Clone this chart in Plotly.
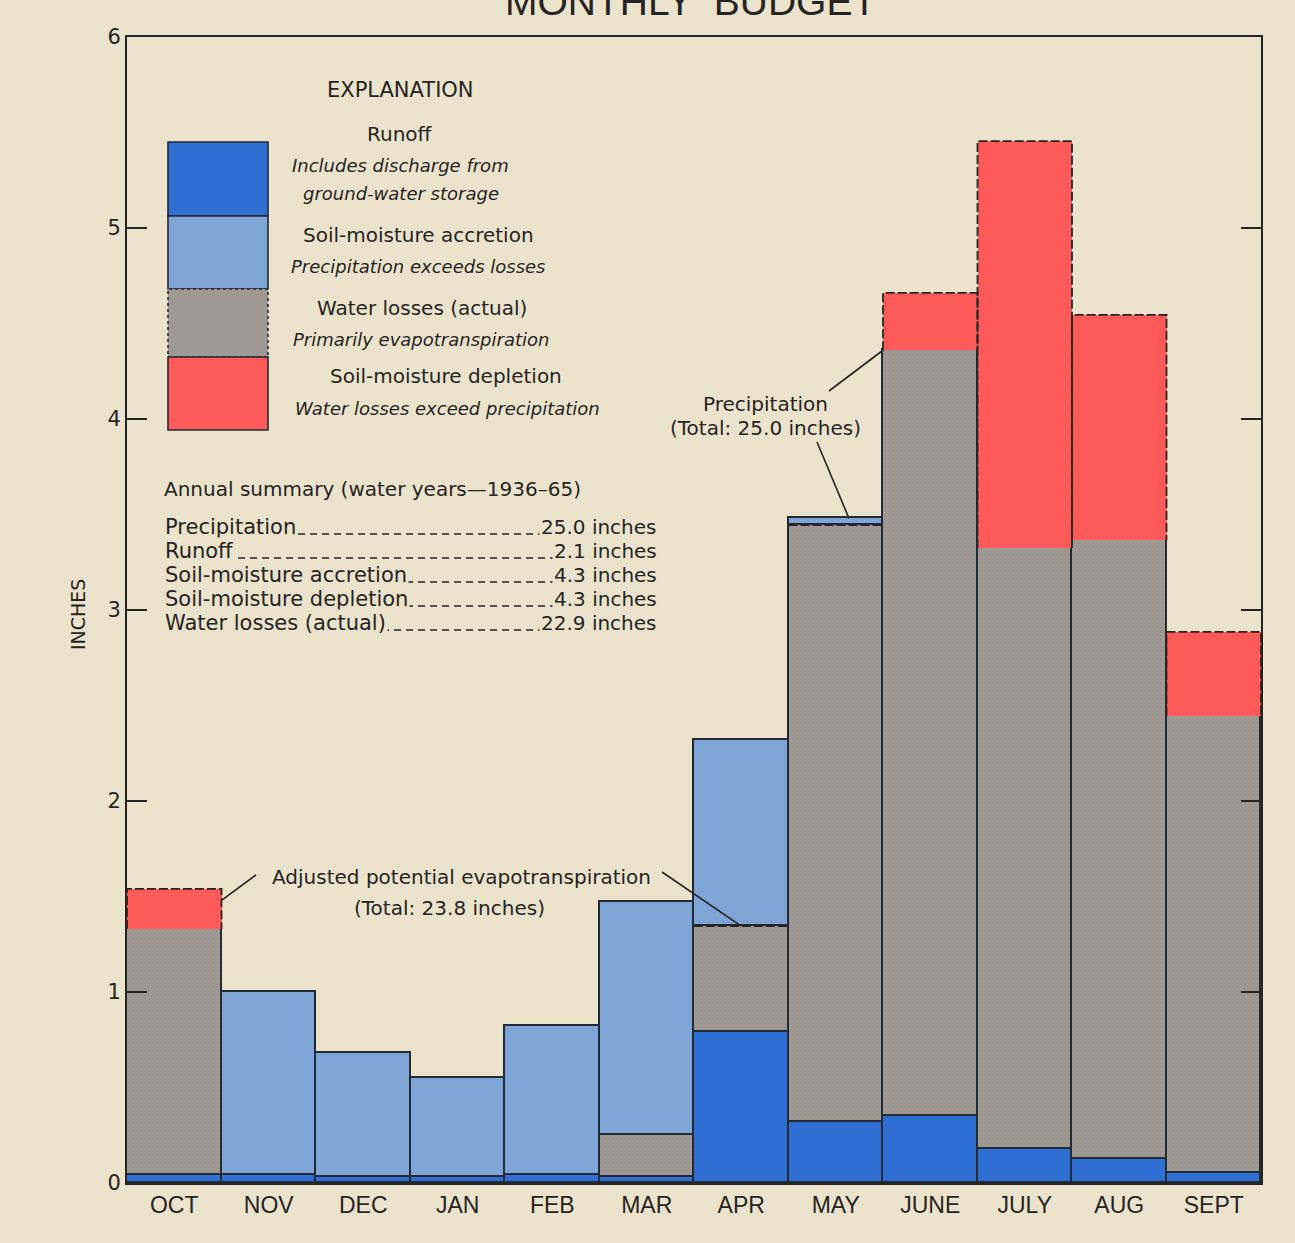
import plotly.graph_objects as go

# Monthly water budget, water years 1936-65 (inches)
months = ["OCT", "NOV", "DEC", "JAN", "FEB", "MAR", "APR", "MAY", "JUNE", "JULY", "AUG", "SEPT"]
runoff = [0.04, 0.04, 0.03, 0.03, 0.04, 0.03, 0.79, 0.32, 0.35, 0.18, 0.125, 0.05]
losses = [1.29, 0.0, 0.0, 0.0, 0.0, 0.22, 0.555, 3.125, 4.01, 3.145, 3.24, 2.395]
accretion = [0.0, 0.96, 0.65, 0.52, 0.78, 1.22, 0.975, 0.035, 0.0, 0.0, 0.0, 0.0]
depletion = [0.21, 0.0, 0.0, 0.0, 0.0, 0.0, 0.0, 0.0, 0.30, 2.13, 1.18, 0.44]
pet_months = ["OCT", "APR", "MAY", "JUNE", "JULY", "AUG", "SEPT"]

summary_labels = ["Precipitation", "Runoff", "Soil-moisture accretion",
                  "Soil-moisture depletion", "Water losses (actual)"]
summary_values = ["25.0 inches", "2.1 inches", "4.3 inches", "4.3 inches", "22.9 inches"]

BG = "#ece3cc"
INK = "#262422"
C_RUNOFF = "#2f6fd3"
C_ACCR = "#7fa5d6"
C_LOSS = "#9f9993"
C_DEPL = "#ff5a5a"
EDGE = "#222a33"
FONT = "DejaVu Sans"

x = list(range(len(months)))

fig = go.Figure()
fig.add_bar(x=x, y=runoff, name="Runoff", marker=dict(color=C_RUNOFF, line=dict(color=EDGE, width=1.6)))
fig.add_bar(x=x, y=losses, name="Water losses (actual)",
            marker=dict(color=C_LOSS, line=dict(color=EDGE, width=1.6),
                        pattern=dict(shape=".", fgcolor="#8a847d", size=4, solidity=0.15)))
fig.add_bar(x=x, y=accretion, name="Soil-moisture accretion",
            marker=dict(color=C_ACCR, line=dict(color=EDGE, width=1.6)))
fig.add_bar(x=x, y=depletion, name="Soil-moisture depletion",
            marker=dict(color=C_DEPL, line=dict(color=C_DEPL, width=0)))

# Adjusted potential evapotranspiration drawn as dashed outline
px_, py_ = [], []
for i, m in enumerate(months):
    if m not in pet_months:
        continue
    base = runoff[i] + losses[i]
    pet = base + depletion[i]
    if depletion[i] > 0:
        px_ += [i - 0.5, i - 0.5, i + 0.5, i + 0.5, None]
        py_ += [base, pet, pet, base, None]
    else:
        px_ += [i - 0.5, i + 0.5, None]
        py_ += [pet, pet, None]
fig.add_scatter(x=px_, y=py_, mode="lines", line=dict(color=INK, width=1.8, dash="9px,3px"),
                hoverinfo="skip", showlegend=False)

L, R, T, B = 127, 1261, 37, 1183


def pxp(v):
    return (v - L) / (R - L)


def pyp(v):
    return (B - v) / (B - T)


def dx(v):
    return (v + 0.5) / len(months)


def dy(v):
    return v / 6.0


ann = []
shapes = []


def text(s, xp, yp, size=21, align="center", italic=False, bg=None, font=FONT):
    a = dict(text=s, x=pxp(xp), y=pyp(yp), xref="paper", yref="paper", showarrow=False,
             xanchor={"center": "center", "left": "left", "right": "right"}[align], yanchor="middle",
             font=dict(family=font, size=size, color=INK, style="italic" if italic else "normal"))
    if bg:
        a["bgcolor"] = bg
        a["borderpad"] = 1
    ann.append(a)


# Title (partially above the frame)
text("MONTHLY  BUDGET", 690, 1, size=39, font="Liberation Sans")

# Explanation block
text("EXPLANATION", 400, 90, size=21)
text("Runoff", 400, 134, size=20)
text("Includes discharge from", 400, 165, size=18, italic=True)
text("ground-water storage", 401, 193, size=18, italic=True)
text("Soil-moisture accretion", 418, 235, size=20)
text("Precipitation exceeds losses", 418, 266, size=18, italic=True)
text("Water losses (actual)", 422, 308, size=20)
text("Primarily evapotranspiration", 421, 339, size=18, italic=True)
text("Soil-moisture depletion", 446, 376, size=20)
text("Water losses exceed precipitation", 447, 408, size=18, italic=True)

sw = [(142, 216, C_RUNOFF, "solid"), (216, 289, C_ACCR, "solid"),
      (289, 357, C_LOSS, "dot"), (357, 430, C_DEPL, "solid")]
for y0, y1, c, d in sw:
    shapes.append(dict(type="rect", xref="paper", yref="paper", x0=pxp(168), x1=pxp(268),
                       y0=pyp(y1), y1=pyp(y0), fillcolor=c, line=dict(color=EDGE, width=1.6, dash=d),
                       layer="above"))

# Annual summary
text("Annual summary (water years\u20141936\u201365)", 162, 489, size=20, align="left")
for k, (lab, val) in enumerate(zip(summary_labels, summary_values)):
    yc = 527 + 24 * k
    shapes.append(dict(type="line", xref="paper", yref="paper", x0=pxp(166), x1=pxp(655),
                       y0=pyp(yc + 7), y1=pyp(yc + 7), line=dict(color=INK, width=1.5, dash="7px,5px"),
                       layer="above"))
    text(lab, 163, yc, size=21, align="left", bg=BG)
    text(val, 659, yc, size=20, align="right", bg=BG)

# Precipitation leader lines
text("Precipitation", 765, 404, size=20)
text("(Total: 25.0 inches)", 765, 428, size=20)
shapes.append(dict(type="line", xref="paper", yref="paper", x0=pxp(829), y0=pyp(391),
                   x1=dx(7.5), y1=dy(runoff[8] + losses[8]), line=dict(color=INK, width=1.6)))
shapes.append(dict(type="line", xref="paper", yref="paper", x0=pxp(817), y0=pyp(442),
                   x1=dx(7.14), y1=dy(runoff[7] + losses[7] + accretion[7]), line=dict(color=INK, width=1.6)))

# Adjusted potential evapotranspiration leader lines
text("Adjusted potential evapotranspiration", 461, 877, size=20)
text("(Total: 23.8 inches)", 449, 908, size=20)
shapes.append(dict(type="line", xref="paper", yref="paper", x0=pxp(256), y0=pyp(875),
                   x1=dx(0.5), y1=dy(1.48), line=dict(color=INK, width=1.6)))
shapes.append(dict(type="line", xref="paper", yref="paper", x0=pxp(662), y0=pyp(872),
                   x1=dx(6.0), y1=dy(runoff[6] + losses[6]), line=dict(color=INK, width=1.6)))

# Y axis title
ann.append(dict(text="INCHES", x=pxp(65), y=pyp(615), xref="paper", yref="paper", showarrow=False,
                textangle=-90, font=dict(family=FONT, size=19, color=INK)))

fig.update_layout(
    width=1295, height=1243,
    margin=dict(l=L, r=1295 - R, t=T, b=1243 - B),
    paper_bgcolor=BG, plot_bgcolor=BG,
    barmode="stack", bargap=0, showlegend=False,
    annotations=ann, shapes=shapes,
    font=dict(family=FONT, color=INK),
)
fig.update_xaxes(range=[-0.5, 11.5], tickvals=x, ticktext=months, showgrid=False, zeroline=False,
                 showline=True, mirror=True, linecolor=INK, linewidth=1.8, ticks="",
                 tickfont=dict(family="Liberation Sans", size=23, color=INK))
fig.update_yaxes(range=[0, 6], tickvals=[0, 1, 2, 3, 4, 5, 6], showgrid=False, zeroline=False,
                 showline=True, mirror="ticks", linecolor=INK, linewidth=1.8, ticks="inside",
                 ticklen=20, tickwidth=1.8, tickcolor=INK,
                 tickfont=dict(family=FONT, size=21, color=INK))

fig.write_html("out.html")
